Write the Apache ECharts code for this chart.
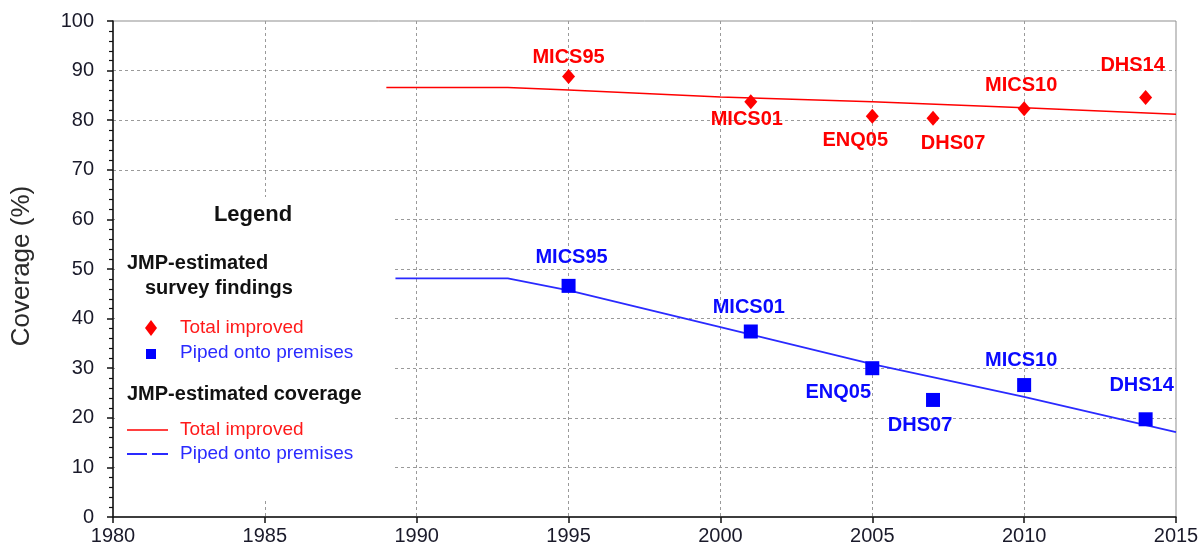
<!DOCTYPE html>
<html>
<head>
<meta charset="utf-8">
<script src="https://cdn.jsdelivr.net/npm/echarts@6/dist/echarts.min.js"></script>
<style>
html,body{margin:0;padding:0;background:#fff;}
#c{width:1202px;height:552px;}
</style>
</head>
<body>
<div id="c"></div>
<script>
// ---- data ----
const redLineYears  = [1989, 1993, 1995, 2000, 2005, 2010, 2015];
const redLineValues = [86.6, 86.6, 86.1, 84.7, 83.7, 82.5, 81.2];
const blueLineYears  = [1989.3, 1993, 1995, 2000, 2005, 2010, 2015];
const blueLineValues = [48.1, 48.1, 45.7, 38.3, 30.8, 24.2, 17.1];
const surveyNames = ['MICS95', 'MICS01', 'ENQ05', 'DHS07', 'MICS10', 'DHS14'];
const surveyYears = [1995, 2001, 2005, 2007, 2010, 2014];
const redSurveyValues  = [88.8, 83.7, 80.8, 80.4, 82.3, 84.6];
const blueSurveyValues = [46.6, 37.4, 30.0, 23.6, 26.6, 19.7];
const xTickValues = [1980, 1985, 1990, 1995, 2000, 2005, 2010, 2015];
const yTickValues = [0, 10, 20, 30, 40, 50, 60, 70, 80, 90, 100];

// ---- label placement (layout only) ----
const redLabelOffsets  = [[0,-19],[-4,18],[-17,24],[20,25],[-3,-23],[-13,-32]];
const blueLabelOffsets = [[3,-28],[-2,-24],[-34,24],[-13,26],[-3,-25],[-4,-34]];

const FONT = "'Liberation Sans', Arial, sans-serif";
const RED = '#ff0000';
const BLUE = '#0000ff';

function pairs(xs, ys){ return xs.map((x,i)=>[x, ys[i]]); }
function surveyData(values, offsets){
  return surveyYears.map((yr,i)=>({
    value:[yr, values[i]],
    name: surveyNames[i],
    label:{offset: offsets[i]}
  }));
}

const chart = echarts.init(document.getElementById('c'), null, {renderer:'canvas'});
const gridL = 113, gridT = 21, gridR = 1176, gridB = 517;

const option = {
  animation:false,
  backgroundColor:'#fff',
  grid:{left:gridL, top:gridT, right:1202-gridR, bottom:552-gridB, show:true,
        borderColor:'#8f8f8f', borderWidth:1, backgroundColor:'transparent',
        outerBoundsMode:'none', containLabel:false},
  xAxis:{
    type:'value', min:xTickValues[0], max:xTickValues[xTickValues.length-1], interval:5,
    axisLine:{show:true, onZero:false, lineStyle:{color:'#111', width:1.5}},
    axisTick:{show:true, inside:false, length:6, lineStyle:{color:'#111', width:1.5}},
    axisLabel:{color:'#1a1a2a', fontSize:20, fontFamily:FONT, margin:9,
               formatter:(v)=> xTickValues.includes(v) ? String(v) : ''},
    splitLine:{show:true, showMinLine:false, showMaxLine:false,
               lineStyle:{color:'#9a9a9a', type:[3,3], width:1}}
  },
  yAxis:{
    type:'value', min:yTickValues[0], max:yTickValues[yTickValues.length-1], interval:10,
    axisLine:{show:true, onZero:false, lineStyle:{color:'#111', width:1.5}},
    axisTick:{show:true, inside:false, length:6, lineStyle:{color:'#111', width:1.5}},
    minorTick:{show:true, splitNumber:5, length:4, lineStyle:{color:'#111', width:1.2}},
    axisLabel:{color:'#1a1a2a', fontSize:20, fontFamily:FONT, margin:19,
               formatter:(v)=> yTickValues.includes(v) ? String(v) : ''},
    splitLine:{show:true, showMinLine:false, showMaxLine:false,
               lineStyle:{color:'#9a9a9a', type:[3,3], width:1}}
  },
  series:[
    {
      name:'Total improved (JMP)', type:'line', data:pairs(redLineYears, redLineValues),
      showSymbol:false, symbol:'none', smooth:false,
      lineStyle:{color:RED, width:1.5, opacity:1}, z:3
    },
    {
      name:'Piped onto premises (JMP)', type:'line', data:pairs(blueLineYears, blueLineValues),
      showSymbol:false, symbol:'none', smooth:false,
      lineStyle:{color:'#2a2aff', width:1.8, opacity:1}, z:3
    },
    {
      name:'Total improved (survey)', type:'scatter', data:surveyData(redSurveyValues, redLabelOffsets),
      symbol:'diamond', symbolSize:[13,15], itemStyle:{color:RED, opacity:1}, z:4,
      label:{show:true, position:'inside', formatter:'{b}', color:RED,
             fontSize:20, fontWeight:'bold', fontFamily:FONT, align:'center', verticalAlign:'middle'}
    },
    {
      name:'Piped onto premises (survey)', type:'scatter', data:surveyData(blueSurveyValues, blueLabelOffsets),
      symbol:'rect', symbolSize:14, itemStyle:{color:BLUE, opacity:1}, z:4,
      label:{show:true, position:'inside', formatter:'{b}', color:'#0a0aff',
             fontSize:20, fontWeight:'bold', fontFamily:FONT, align:'center', verticalAlign:'middle'}
    }
  ],
  graphic:[
    // y axis title
    {type:'text', x:22, y:266, rotation:Math.PI/2, z:50,
     style:{text:'Coverage (%)', fill:'#2a2a2a', font:'26px ' + FONT, align:'center', verticalAlign:'middle'}},
    // legend box (white, covers gridlines)
    {type:'rect', z:100, shape:{x:115, y:197, width:277, height:303}, style:{fill:'#fff'}},
    {type:'text', z:101, x:253, y:215, style:{text:'Legend', fill:'#111', font:'bold 22px ' + FONT, align:'center', verticalAlign:'middle'}},
    {type:'text', z:101, x:127, y:263, style:{text:'JMP-estimated', fill:'#111', font:'bold 20px ' + FONT, align:'left', verticalAlign:'middle'}},
    {type:'text', z:101, x:145, y:288, style:{text:'survey findings', fill:'#111', font:'bold 20px ' + FONT, align:'left', verticalAlign:'middle'}},
    {type:'polygon', z:101, shape:{points:[[151,320],[157,328],[151,336],[145,328]]}, style:{fill:RED}},
    {type:'text', z:101, x:180, y:328, style:{text:'Total improved', fill:'#ff1a1a', font:'19px ' + FONT, align:'left', verticalAlign:'middle'}},
    {type:'rect', z:101, shape:{x:146, y:349, width:10, height:10}, style:{fill:BLUE}},
    {type:'text', z:101, x:180, y:353, style:{text:'Piped onto premises', fill:'#2a2aff', font:'19px ' + FONT, align:'left', verticalAlign:'middle'}},
    {type:'text', z:101, x:127, y:394, style:{text:'JMP-estimated coverage', fill:'#111', font:'bold 20px ' + FONT, align:'left', verticalAlign:'middle'}},
    {type:'line', z:101, shape:{x1:127, y1:430, x2:168, y2:430}, style:{stroke:RED, lineWidth:1.6}},
    {type:'text', z:101, x:180, y:430, style:{text:'Total improved', fill:'#ff1a1a', font:'19px ' + FONT, align:'left', verticalAlign:'middle'}},
    {type:'line', z:101, shape:{x1:127, y1:454, x2:168, y2:454}, style:{stroke:'#2a2aff', lineWidth:1.8, lineDash:[20,5]}},
    {type:'text', z:101, x:180, y:454, style:{text:'Piped onto premises', fill:'#2a2aff', font:'19px ' + FONT, align:'left', verticalAlign:'middle'}}
  ]
};
chart.setOption(option);
</script>
</body>
</html>
